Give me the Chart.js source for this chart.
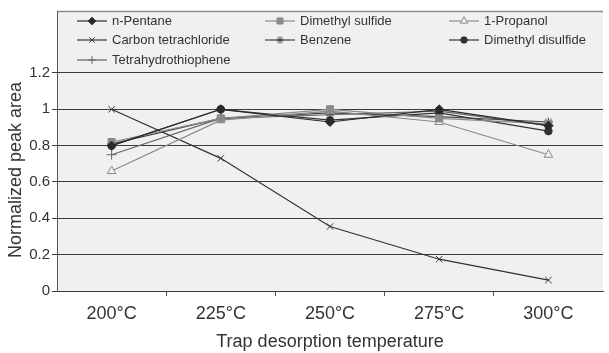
<!DOCTYPE html>
<html>
<head>
<meta charset="utf-8">
<script src="https://cdn.jsdelivr.net/npm/chart.js@4/dist/chart.umd.min.js"></script>
<style>
  body { margin: 0; background: #fff; }
  #wrap { width: 609px; height: 353px; position: relative; }
</style>
</head>
<body>
<div id="wrap"><canvas id="trapChart"></canvas></div>
<script>
const temperatures = ["200°C", "225°C", "250°C", "275°C", "300°C"];
const yTicks = [0, 0.2, 0.4, 0.6, 0.8, 1, 1.2];

const nPentane = [0.80, 1.00, 0.93, 1.00, 0.91];
const dimethylSulfide = [0.82, 0.95, 1.00, 0.95, 0.92];
const propanol = [0.66, 0.94, 0.99, 0.93, 0.75];
const carbonTet = [1.00, 0.73, 0.355, 0.175, 0.06];
const benzene = [0.81, 0.95, 0.98, 0.96, 0.93];
const dimethylDisulfide = [0.80, 1.00, 0.94, 0.98, 0.88];
const tetrahydrothiophene = [0.75, 0.95, 0.97, 0.99, 0.91];

Chart.defaults.font.family = 'Arial, "Liberation Sans", sans-serif';
Chart.defaults.color = "#333";

function series(label, data, color, style, radius, fill) {
    return {
        label: label,
        data: data,
        borderColor: color,
        borderWidth: 1.2,
        pointStyle: style,
        pointRadius: radius,
        pointHoverRadius: radius,
        pointBorderColor: color,
        pointBackgroundColor: fill || color,
        pointBorderWidth: 1,
        tension: 0,
    };
}

const datasets = [
    series("n-Pentane", nPentane, "#2a2a2a", "rectRot", 4.5),
    series("Dimethyl sulfide", dimethylSulfide, "#8a8a8a", "rect", 5),
    series("1-Propanol", propanol, "#8a8a8a", "triangle", 5, "#f0f0f0"),
    series("Carbon tetrachloride", carbonTet, "#333", "crossRot", 4.5),
    series("Benzene", benzene, "#444", "star", 4.5),
    series("Dimethyl disulfide", dimethylDisulfide, "#333", "circle", 3.8),
    series("Tetrahydrothiophene", tetrahydrothiophene, "#666", "cross", 5),
];

// legend slots inside the plot box: 3 columns, rows of 20px
const legendCols = [77, 265, 449];
const legendRows = [21, 40, 60];

const plotDecor = {
    id: "plotDecor",
    beforeDraw(chart) {
        const { ctx, chartArea: a } = chart;
        ctx.save();
        ctx.fillStyle = "#f0f0f0";
        ctx.fillRect(a.left, a.top, a.right - a.left, a.bottom - a.top);
        ctx.strokeStyle = "#8c8c8c";
        ctx.lineWidth = 1.5;
        ctx.beginPath();
        ctx.moveTo(a.left, a.top + 0.5);
        ctx.lineTo(a.right, a.top + 0.5);
        ctx.stroke();
        ctx.restore();
    },
    afterDraw(chart) {
        const ctx = chart.ctx;
        ctx.save();
        chart.data.datasets.forEach((ds, i) => {
            const x = legendCols[i % 3];
            const y = legendRows[Math.floor(i / 3)];
            ctx.strokeStyle = ds.borderColor;
            ctx.lineWidth = 1.2;
            ctx.beginPath();
            ctx.moveTo(x, y);
            ctx.lineTo(x + 30, y);
            ctx.stroke();
            ctx.fillStyle = ds.pointBackgroundColor;
            ctx.strokeStyle = ds.pointBorderColor;
            ctx.lineWidth = 1;
            Chart.helpers.drawPoint(ctx, {
                pointStyle: ds.pointStyle,
                radius: ds.pointRadius * 0.85,
                rotation: 0,
                borderWidth: 1,
            }, x + 15, y);
            ctx.fillStyle = "#333";
            ctx.font = '13px Arial, "Liberation Sans", sans-serif';
            ctx.textBaseline = "middle";
            ctx.textAlign = "left";
            ctx.fillText(ds.label, x + 35, y);
        });
        // y axis title
        ctx.translate(16, 170);
        ctx.rotate(-Math.PI / 2);
        ctx.font = '18px Arial, "Liberation Sans", sans-serif';
        ctx.textAlign = "center";
        ctx.textBaseline = "middle";
        ctx.fillText("Normalized peak area", 0, 0);
        ctx.restore();
    },
};

new Chart(document.getElementById("trapChart"), {
    type: "line",
    data: { labels: temperatures, datasets: datasets },
    plugins: [plotDecor],
    options: {
        responsive: true,
        maintainAspectRatio: false,
        animation: false,
        layout: { padding: { top: 11, right: 0, left: 0, bottom: 0 } },
        plugins: {
            legend: { display: false },
            tooltip: { enabled: false },
        },
        scales: {
            x: {
                offset: true,
                grid: {
                    offset: true,
                    drawOnChartArea: false,
                    drawTicks: true,
                    tickLength: 5,
                    // only the inner category boundaries get a tick
                    color: (c) => (c.type === "tick" && c.index > 0 && c.index < temperatures.length) ? "#555" : "rgba(0,0,0,0)",
                },
                border: { color: "#3c3c3c" },
                ticks: { font: { size: 18 }, padding: 7, color: "#333", maxRotation: 0 },
                title: {
                    display: true,
                    text: "Trap desorption temperature",
                    font: { size: 18 },
                    color: "#333",
                    padding: { top: 0, bottom: 0 },
                },
                afterFit: (s) => { s.height = 62; },
            },
            y: {
                min: 0,
                max: 1.541,
                afterBuildTicks: (s) => { s.ticks = yTicks.map((v) => ({ value: v })); },
                grid: { color: "#3c3c3c", tickLength: 5, lineWidth: 1 },
                border: { color: "#555" },
                ticks: {
                    font: { size: 15 },
                    padding: 2,
                    color: "#333",
                    callback: (v) => String(v),
                },
                afterFit: (s) => { s.width = 57; },
            },
        },
    },
});
</script>
</body>
</html>
